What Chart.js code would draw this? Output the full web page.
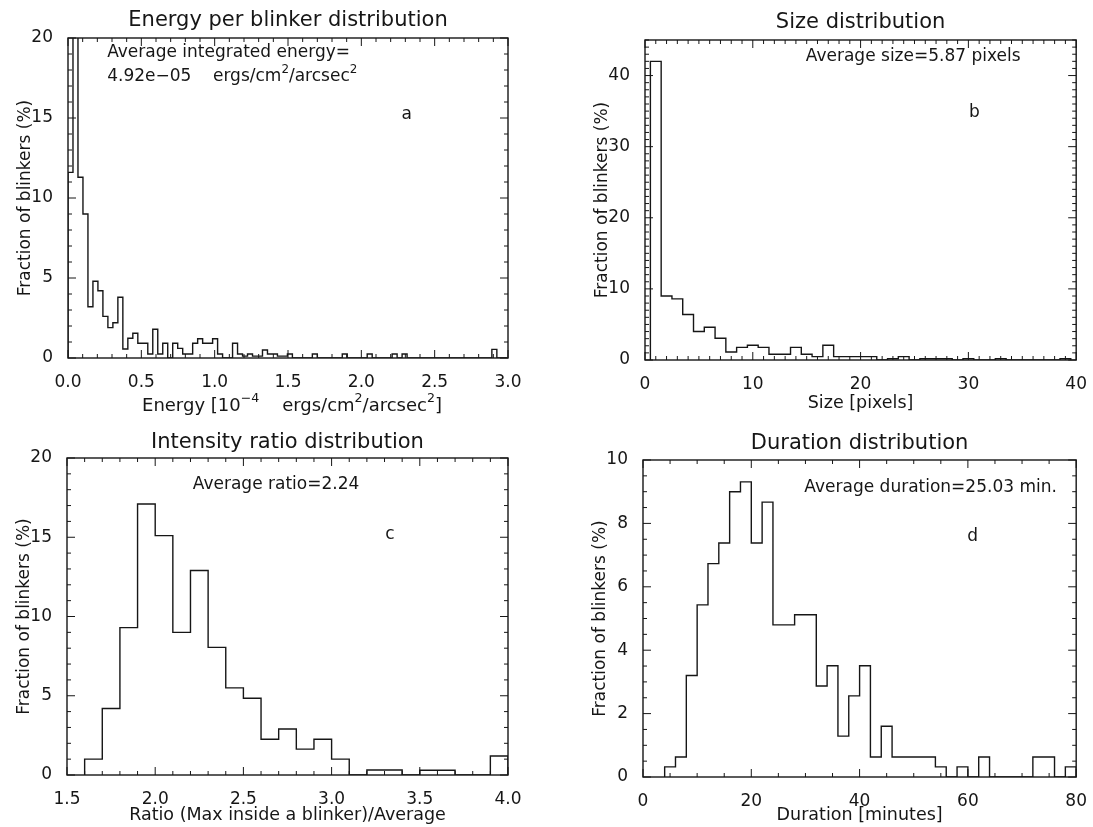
<!DOCTYPE html>
<html>
<head>
<meta charset="utf-8">
<title>Blinker statistics</title>
<script src="https://cdn.jsdelivr.net/npm/chart.js@4.4.1/dist/chart.umd.min.js"></script>
<style>
  html, body { margin: 0; padding: 0; background: #fff; }
  #wrap { position: relative; width: 1093px; height: 827px; background: #fff; }
  #wrap canvas { position: absolute; left: 0; top: 0; pointer-events: none; }
</style>
</head>
<body>
<div id="wrap">
  <canvas id="energyChart" width="1093" height="827"></canvas>
  <canvas id="sizeChart" width="1093" height="827"></canvas>
  <canvas id="ratioChart" width="1093" height="827"></canvas>
  <canvas id="durationChart" width="1093" height="827"></canvas>
</div>
<script>
// ---- Histogram data: fraction of blinkers (%) per bin ----

// (a) integrated energy, units of 1e-4 ergs/cm^2/arcsec^2
const energyBinStart = 0;
const energyBinWidth = 0.034;
const energyFraction = [
  11.6, 24.5, 11.3, 9.0, 3.2, 4.8, 4.2, 2.6, 1.9, 2.2,
  3.8, 0.56, 1.23, 1.55, 0.92, 0.92, 0.25, 1.8, 0.25, 0.92,
  0, 0.92, 0.6, 0.25, 0.25, 0.92, 1.2, 0.92, 0.92, 1.2,
  0.25, 0, 0, 0.92, 0.25, 0.12, 0.25, 0.12, 0.12, 0.5,
  0.25, 0.25, 0.12, 0.12, 0.25, 0, 0, 0, 0, 0.25,
  0, 0, 0, 0, 0, 0.25, 0, 0, 0, 0,
  0.25, 0, 0, 0, 0, 0.25, 0, 0.25, 0, 0,
  0, 0, 0, 0, 0, 0, 0, 0, 0, 0,
  0, 0, 0, 0, 0, 0.54, 0, 0
];

// (b) size in pixels
const sizeBinStart = 0.5;
const sizeBinWidth = 1;
const sizeFraction = [
  42.0, 9.0, 8.6, 6.4, 4.0, 4.6, 3.05, 1.13, 1.78, 2.07,
  1.78, 0.8, 0.8, 1.78, 0.8, 0.47, 2.07, 0.47, 0.47, 0.47,
  0.47, 0, 0.17, 0.47, 0, 0.17, 0.17, 0.17, 0, 0.17,
  0, 0, 0.17, 0, 0, 0, 0, 0, 0.17
];

// (c) intensity ratio (max inside a blinker / average)
const ratioBinStart = 1.6;
const ratioBinWidth = 0.1;
const ratioFraction = [
  1.0, 4.2, 9.3, 17.1, 15.1, 9.0, 12.9, 8.05, 5.5, 4.84,
  2.26, 2.9, 1.63, 2.26, 1.0, 0, 0.32, 0.32, 0, 0.3,
  0.3, 0, 0, 1.2
];

// (d) duration in minutes
const durationBinStart = 4;
const durationBinWidth = 2;
const durationFraction = [
  0.32, 0.63, 3.2, 5.43, 6.73, 7.38, 9.0, 9.31, 7.38, 8.67,
  4.8, 4.8, 5.12, 5.12, 2.87, 3.51, 1.29, 2.56, 3.51, 0.63,
  1.6, 0.63, 0.63, 0.63, 0.63, 0.32, 0, 0.32, 0, 0.63,
  0, 0, 0, 0, 0.63, 0.63, 0, 0.32
];

// ---- Shared styling ----
const FONT = "'DejaVu Sans', 'Liberation Sans', sans-serif";
const INK = '#161616';

// Outline points for a step histogram: rise at the first edge, one step per bin, drop at the last edge.
function outline(start, width, values) {
  const pts = [{ x: start, y: 0 }];
  values.forEach((v, i) => pts.push({ x: start + i * width, y: v }));
  pts.push({ x: start + values.length * width, y: 0 });
  return pts;
}

// Text made of runs, some of them raised as superscripts.
function drawRuns(ctx, runs, x, y, size, align) {
  const supSize = size * 0.7;
  const widths = runs.map(r => {
    ctx.font = `${r.sup ? supSize : size}px ${FONT}`;
    return ctx.measureText(r.t).width;
  });
  const total = widths.reduce((s, w) => s + w, 0);
  let cx = align === 'center' ? x - total / 2 : x;
  ctx.textAlign = 'left';
  runs.forEach((r, i) => {
    ctx.font = `${r.sup ? supSize : size}px ${FONT}`;
    ctx.fillText(r.t, cx, r.sup ? y - size * 0.4 : y);
    cx += widths[i];
  });
}

// Frame, inward tick marks, panel title and in-plot notes.
const panelDecor = {
  id: 'panelDecor',
  afterDatasetsDraw(chart, args, o) {
    const { ctx, chartArea: a, scales } = chart;
    const xs = scales.x, ys = scales.y;
    ctx.save();
    ctx.strokeStyle = INK;
    ctx.lineWidth = 1.4;
    ctx.strokeRect(a.left, a.top, a.right - a.left, a.bottom - a.top);

    const marks = (scale, minor, major, horizontal) => {
      const n = Math.round((scale.max - scale.min) / minor);
      ctx.beginPath();
      for (let i = 0; i <= n; i++) {
        const v = scale.min + i * minor;
        const r = v / major;
        const len = Math.abs(r - Math.round(r)) < 1e-6 ? o.majorLen : o.minorLen;
        const p = scale.getPixelForValue(v);
        if (horizontal) {
          ctx.moveTo(p, a.bottom); ctx.lineTo(p, a.bottom - len);
          ctx.moveTo(p, a.top); ctx.lineTo(p, a.top + len);
        } else {
          ctx.moveTo(a.left, p); ctx.lineTo(a.left + len, p);
          ctx.moveTo(a.right, p); ctx.lineTo(a.right - len, p);
        }
      }
      ctx.lineWidth = 1;
      ctx.stroke();
    };
    marks(xs, o.xMinor, o.xMajor, true);
    marks(ys, o.yMinor, o.yMajor, false);

    ctx.fillStyle = INK;
    ctx.textBaseline = 'middle';
    ctx.textAlign = 'center';
    ctx.font = `${o.titleSize}px ${FONT}`;
    ctx.fillText(o.title, (a.left + a.right) / 2, a.top - o.titleGap);

    if (o.xRuns) {
      drawRuns(ctx, o.xRuns, (a.left + a.right) / 2 + 4, a.bottom + o.xRunsGap, 18, 'center');
    }

    o.notes.forEach(nt => {
      const nx = a.left + nt.fx * (a.right - a.left);
      const ny = a.top + nt.fy * (a.bottom - a.top);
      if (nt.runs) {
        drawRuns(ctx, nt.runs, nx, ny, nt.size, nt.align);
      } else {
        ctx.font = `${nt.size}px ${FONT}`;
        ctx.textAlign = nt.align;
        ctx.fillText(nt.text, nx, ny);
      }
    });
    ctx.restore();
  }
};

function makePanel(id, cfg) {
  const yW = 59;
  new Chart(document.getElementById(id), {
    type: 'line',
    data: {
      datasets: [{
        data: outline(cfg.binStart, cfg.binWidth, cfg.values),
        stepped: 'before',
        borderColor: INK,
        borderWidth: 1.4,
        pointRadius: 0,
        fill: false
      }]
    },
    options: {
      responsive: false,
      animation: false,
      events: [],
      layout: {
        autoPadding: false,
        padding: {
          left: cfg.box.left - yW,
          top: cfg.box.top,
          right: 1093 - cfg.box.right,
          bottom: 827 - cfg.box.bottom - cfg.xH
        }
      },
      plugins: {
        legend: { display: false },
        tooltip: { enabled: false },
        panelDecor: Object.assign({ majorLen: 8, minorLen: 4, titleGap: 17, titleSize: 21 }, cfg.decor)
      },
      scales: {
        x: {
          type: 'linear',
          min: cfg.xMin, max: cfg.xMax,
          grid: { display: false },
          border: { display: false },
          ticks: {
            stepSize: cfg.xStep,
            includeBounds: false,
            autoSkip: false,
            maxRotation: 0,
            padding: 6,
            color: INK,
            font: { family: FONT, size: 17 },
            callback: v => cfg.xFmt(v)
          },
          title: {
            display: !!cfg.xTitle,
            text: cfg.xTitle || '',
            color: INK,
            font: { family: FONT, size: 17.5 },
            padding: 0
          },
          afterFit(s) { s.height = cfg.xH; }
        },
        y: {
          type: 'linear',
          min: 0, max: cfg.yMax,
          grid: { display: false },
          border: { display: false },
          ticks: {
            stepSize: cfg.yStep,
            includeBounds: false,
            autoSkip: false,
            padding: 7,
            color: INK,
            font: { family: FONT, size: 17 },
            callback: v => String(v)
          },
          title: {
            display: true,
            text: 'Fraction of blinkers (%)',
            color: INK,
            font: { family: FONT, size: 17 },
            padding: { top: 6, bottom: 0 }
          },
          afterFit(s) { s.width = yW; }
        }
      }
    },
    plugins: [panelDecor]
  });
}

makePanel('energyChart', {
  binStart: energyBinStart, binWidth: energyBinWidth, values: energyFraction,
  box: { left: 68, top: 38, right: 508, bottom: 358 }, xH: 56,
  xMin: 0, xMax: 3, xStep: 0.5, xFmt: v => v.toFixed(1),
  yMax: 20, yStep: 5,
  xTitle: null,
  decor: {
    xMinor: 0.1, xMajor: 0.5, yMinor: 1, yMajor: 5,
    title: 'Energy per blinker distribution',
    xRuns: [
      { t: 'Energy [10' }, { t: '\u22124', sup: true }, { t: '    ergs/cm' }, { t: '2', sup: true },
      { t: '/arcsec' }, { t: '2', sup: true }, { t: ']' }
    ],
    xRunsGap: 48,
    notes: [
      { text: 'Average integrated energy=', fx: 0.089, fy: 0.047, align: 'left', size: 17 },
      { runs: [
          { t: '4.92e\u221205    ergs/cm' }, { t: '2', sup: true }, { t: '/arcsec' }, { t: '2', sup: true }
        ], fx: 0.089, fy: 0.122, align: 'left', size: 17 },
      { text: 'a', fx: 0.77, fy: 0.24, align: 'center', size: 17 }
    ]
  }
});

makePanel('sizeChart', {
  binStart: sizeBinStart, binWidth: sizeBinWidth, values: sizeFraction,
  box: { left: 645, top: 40, right: 1082, bottom: 360 }, xH: 54,
  xMin: 0, xMax: 40, xStep: 10, xFmt: v => String(v),
  yMax: 45, yStep: 10,
  xTitle: 'Size [pixels]',
  decor: {
    xMinor: 1, xMajor: 10, yMinor: 1, yMajor: 10,
    title: 'Size distribution',
    notes: [
      { text: 'Average size=5.87 pixels', fx: 0.622, fy: 0.053, align: 'center', size: 17 },
      { text: 'b', fx: 0.764, fy: 0.228, align: 'center', size: 17 }
    ]
  }
});

makePanel('ratioChart', {
  binStart: ratioBinStart, binWidth: ratioBinWidth, values: ratioFraction,
  box: { left: 67, top: 458, right: 508, bottom: 775 }, xH: 51,
  xMin: 1.5, xMax: 4, xStep: 0.5, xFmt: v => v.toFixed(1),
  yMax: 20, yStep: 5,
  xTitle: 'Ratio (Max inside a blinker)/Average',
  decor: {
    xMinor: 0.1, xMajor: 0.5, yMinor: 1, yMajor: 5,
    title: 'Intensity ratio distribution',
    titleGap: 15,
    notes: [
      { text: 'Average ratio=2.24', fx: 0.474, fy: 0.085, align: 'center', size: 17 },
      { text: 'c', fx: 0.732, fy: 0.24, align: 'center', size: 17 }
    ]
  }
});

makePanel('durationChart', {
  binStart: durationBinStart, binWidth: durationBinWidth, values: durationFraction,
  box: { left: 643, top: 460, right: 1083, bottom: 777 }, xH: 49,
  xMin: 0, xMax: 80, xStep: 20, xFmt: v => String(v),
  yMax: 10, yStep: 2,
  xTitle: 'Duration [minutes]',
  decor: {
    xMinor: 5, xMajor: 20, yMinor: 0.5, yMajor: 2,
    title: 'Duration distribution',
    titleGap: 16,
    notes: [
      { text: 'Average duration=25.03 min.', fx: 0.664, fy: 0.088, align: 'center', size: 17 },
      { text: 'd', fx: 0.761, fy: 0.24, align: 'center', size: 17 }
    ]
  }
});
</script>
</body>
</html>
